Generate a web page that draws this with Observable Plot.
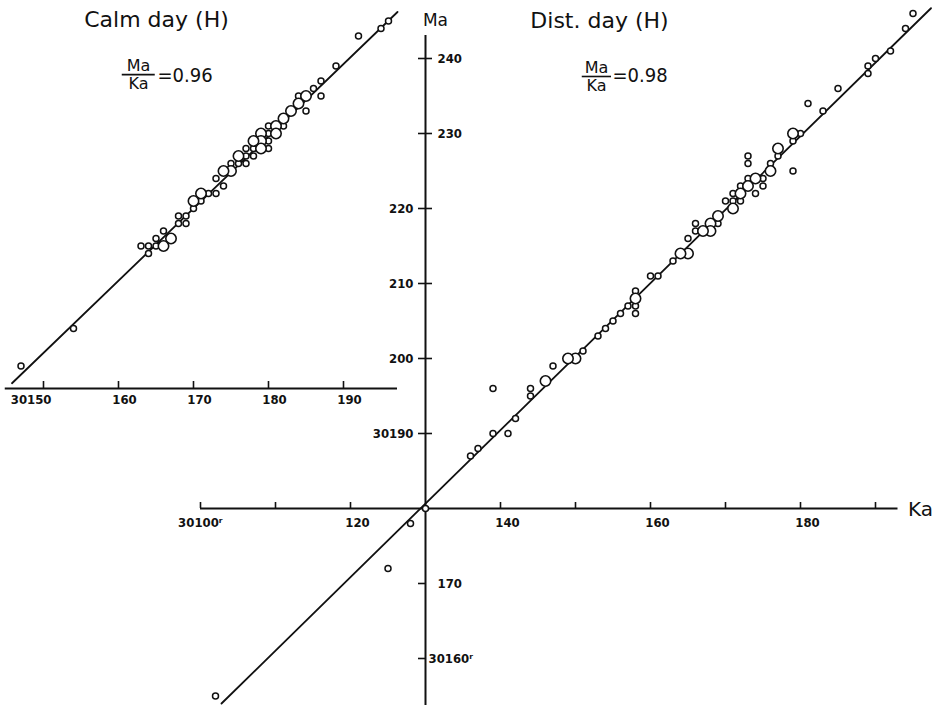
<!DOCTYPE html>
<html><head><meta charset="utf-8">
<script src="https://cdn.jsdelivr.net/npm/d3@7"></script>
<script src="https://cdn.jsdelivr.net/npm/@observablehq/plot@0.6"></script>
<style>
body{margin:0;background:#fff;}
#wrap{position:relative;width:937px;height:705px;overflow:hidden;background:#fff;}
#wrap svg{position:absolute;left:0;top:0;}
</style></head><body><div id="wrap"></div>
<script>
// ---- Disturbed day (H): Ka vs Ma (gamma, offset 30000) ----
const distKa = [195,194,192,190,189,189,185,183,181,180,179,179,179,177,177,176,176,173,173,173,175,174,175,174,173,172,172,171,172,171,170,171,169,169,168,168,167,166,166,165,165,164,163,161,160,158,158,158,158,157,156,155,154,153,151,150,149,147,146,144,144,139,142,141,139,137,136,130,128,125,102];
const distMa = [246,244,241,240,239,238,236,233,234,230,230,229,225,228,227,226,225,227,226,224,224,224,223,222,223,223,222,222,221,221,221,220,219,218,218,217,217,218,217,216,214,214,213,211,211,209,208,207,206,207,206,205,204,203,201,200,200,199,197,196,195,196,192,190,190,188,187,180,178,172,155];
const distN  = [1,1,1,1,1,1,1,1,1,1,2,1,1,2,1,1,2,1,1,1,1,2,1,1,2,1,2,1,1,1,1,2,2,1,2,2,2,1,1,1,2,2,1,1,1,1,2,1,1,1,1,1,1,1,1,2,2,1,2,1,1,1,1,1,1,1,1,1,1,1,1];
const distLineKa = [102.8, 197.4];
const distLineMa = [154.0, 246.7];

// ---- Calm day (H) ----
const calmKa = [147,154,192,195,196,189,187,186,187,185,184,184,185,183,182,182,181,181,180,180,180,180,179,179,179,178,178,178,177,177,177,176,176,175,175,174,173,174,173,172,171,171,170,170,169,168,168,169,167,166,166,165,165,164,164,163];
const calmMa = [199,204,243,244,245,239,237,236,235,235,235,234,233,233,232,231,231,230,231,230,229,228,230,229,228,229,228,227,228,227,226,227,226,226,225,225,224,223,222,222,222,221,221,220,219,219,218,218,216,217,215,216,215,215,214,215];
const calmN  = [1,1,1,1,1,1,1,1,1,2,1,2,1,2,2,1,2,2,1,1,1,1,2,2,2,2,1,1,1,1,1,2,1,1,2,2,1,1,1,1,2,1,2,1,1,1,1,1,2,1,2,1,1,1,1,1];
const calmLineKa = [145.8, 197.2];
const calmLineMa = [196.7, 246.2];

// ---- axes / ticks ----
const kaTicks = [100,110,120,140,150,160,170,180,190];
const kaLabelVals = [120,140,160,180];
const kaLabelText = ["120","140","160","180"];
const kaFirstVal = 100, kaFirstText = "30100\u02B3";
const maTicksCross = [190,200,210,220,230,240];
const maTicksLeft = [160,170];
const maRightVals = [240,230,170];
const maRightText = ["240","230","170"];
const maLeftVals = [220,210,200,190];
const maLeftText = ["220","210","200","30190"];
const maLowVal = 160, maLowText = "30160\u02B3";
const calmTicks = [150,160,170,180,190];
const calmLabelVals = [160,170,180,190];
const calmLabelText = ["160","170","180","190"];
const calmFirstVal = 150, calmFirstText = "30150";

// fraction bars of the Ma/Ka ratio annotations (data units of each panel)
const distBar = [{ka1: 150.9, ka2: 154.8, ma: 237.6}];
const calmBar = [{ka1: 160.5, ka2: 164.9, ma: 237.85}];

// origin of axes
const KA0 = 130, MA0 = 180, CALM_MA0 = 196;

// scale setup (7.5 px per gamma on both axes)
const PX = 7.5;
const yDom = [153.733, 247.733];
const mainXDom = [73.333, 198.267];
const calmXDom = [144.267, 200.267];

const dist = distKa.map((k,i)=>({ka:k, ma:distMa[i], n:distN[i]}));
const calm = calmKa.map((k,i)=>({ka:k, ma:calmMa[i], n:calmN[i]}));
const distLine = distLineKa.map((k,i)=>({ka:k, ma:distLineMa[i]}));
const calmLine = calmLineKa.map((k,i)=>({ka:k, ma:calmLineMa[i]}));

const LBL = {fontFamily:"DejaVu Sans Condensed, DejaVu Sans, sans-serif", fontWeight:"bold", fontSize:13, fill:"#111"};
const TTL = {fontFamily:"DejaVu Sans, sans-serif", fontSize:22, fill:"#111", lineAnchor:"middle"};
const FR = {fontFamily:"DejaVu Sans, sans-serif", fontSize:16, fill:"#111", lineAnchor:"middle"};
const FRV = {fontFamily:"DejaVu Sans Condensed, DejaVu Sans, sans-serif", fontSize:20, fill:"#111", lineAnchor:"middle"};
const tk = 6/PX;

function fraction(bar, cx, yNum, yDen, xVal, yVal, val) {
  return [
    Plot.ruleY(bar, {y: "ma", x1: "ka1", x2: "ka2", stroke: "#111", strokeWidth: 1.6}),
    Plot.text(["Ma"], {frameAnchor:"top-left", text:d=>d, dx: cx, dy: yNum, textAnchor:"middle", ...FR}),
    Plot.text(["Ka"], {frameAnchor:"top-left", text:d=>d, dx: cx, dy: yDen, textAnchor:"middle", ...FR}),
    Plot.text([val], {frameAnchor:"top-left", text:d=>d, dx: xVal, dy: yVal, textAnchor:"start", ...FRV})
  ];
}

const mainPlot = Plot.plot({
  width: 937, height: 705,
  margin: 0,
  style: {background: "transparent", overflow: "visible"},
  x: {domain: mainXDom, axis: null},
  y: {domain: yDom, axis: null},
  marks: [
    Plot.ruleY([MA0], {x1: 100, x2: 193, stroke: "#111", strokeWidth: 2}),
    Plot.ruleX([KA0], {y1: yDom[0], y2: 243.07, stroke: "#111", strokeWidth: 2}),
    Plot.ruleX(kaTicks, {x: d=>d, y1: MA0, y2: MA0 + tk, stroke:"#111", strokeWidth:1.6}),
    Plot.ruleY(maTicksCross, {y: d=>d, x1: KA0 - 7/PX, x2: KA0 + 7/PX, stroke:"#111", strokeWidth:1.6}),
    Plot.ruleY(maTicksLeft, {y: d=>d, x1: KA0 - 7/PX, x2: KA0, stroke:"#111", strokeWidth:1.6}),
    Plot.text(kaLabelVals, {x: d=>d, y: MA0, text: (d,i)=>kaLabelText[i], dx: 7, dy: 14, textAnchor:"middle", ...LBL}),
    Plot.text([kaFirstVal], {x: d=>d, y: MA0, text: ()=>kaFirstText, dx: 22, dy: 14, textAnchor:"end", ...LBL}),
    Plot.text(maRightVals, {x: KA0, y: d=>d, text: (d,i)=>maRightText[i], dx: 12, textAnchor:"start", ...LBL}),
    Plot.text(maLeftVals, {x: KA0, y: d=>d, text: (d,i)=>maLeftText[i], dx: -12, textAnchor:"end", ...LBL}),
    Plot.text([maLowVal], {x: KA0, y: d=>d, text: ()=>maLowText, dx: 3, textAnchor:"start", ...LBL}),
    Plot.text(["Ka"], {x: 193, y: MA0, text: d=>d, dx: 10, dy: 1, textAnchor:"start", fontFamily:"DejaVu Sans, sans-serif", fontSize:20, fill:"#111"}),
    Plot.text(["Ma"], {x: KA0, y: 243.07, text: d=>d, dx: 10, dy: -15, textAnchor:"middle", fontFamily:"DejaVu Sans, sans-serif", fontSize:17, fill:"#111"}),
    Plot.line(distLine, {x:"ka", y:"ma", stroke:"#111", strokeWidth:1.8}),
    Plot.dot(dist.filter(d=>d.n===1), {x:"ka", y:"ma", r:3, fill:"white", stroke:"#111", strokeWidth:1.5}),
    Plot.dot(dist.filter(d=>d.n===2), {x:"ka", y:"ma", r:5.2, fill:"white", stroke:"#111", strokeWidth:1.6}),
    Plot.text(["Dist. day (H)"], {frameAnchor:"top-left", text:d=>d, dx: 599, dy: 20, textAnchor:"middle", ...TTL}),
    ...fraction(distBar, 596, 67, 85, 612, 75, "=0.98")
  ]
});

const calmPlot = Plot.plot({
  width: 420, height: 705,
  margin: 0,
  style: {background: "transparent", overflow: "visible"},
  x: {domain: calmXDom, axis: null},
  y: {domain: yDom, axis: null},
  marks: [
    Plot.ruleY([CALM_MA0], {x1: 144.9, x2: 197.2, stroke:"#111", strokeWidth: 2}),
    Plot.ruleX(calmTicks, {x: d=>d, y1: CALM_MA0, y2: CALM_MA0 + 7/PX, stroke:"#111", strokeWidth:1.6}),
    Plot.text(calmLabelVals, {x: d=>d, y: CALM_MA0, text:(d,i)=>calmLabelText[i], dx: 6, dy: 11, textAnchor:"middle", ...LBL}),
    Plot.text([calmFirstVal], {x: d=>d, y: CALM_MA0, text:()=>calmFirstText, dx: 8, dy: 11, textAnchor:"end", ...LBL}),
    Plot.line(calmLine, {x:"ka", y:"ma", stroke:"#111", strokeWidth:1.8}),
    Plot.dot(calm.filter(d=>d.n===1), {x:"ka", y:"ma", r:3, fill:"white", stroke:"#111", strokeWidth:1.5}),
    Plot.dot(calm.filter(d=>d.n===2), {x:"ka", y:"ma", r:5.2, fill:"white", stroke:"#111", strokeWidth:1.6}),
    Plot.text(["Calm day (H)"], {frameAnchor:"top-left", text:d=>d, dx: 156, dy: 19, textAnchor:"middle", ...TTL}),
    ...fraction(calmBar, 138, 65, 83, 157, 75, "=0.96")
  ]
});

const wrap = document.getElementById("wrap");
wrap.appendChild(mainPlot);
wrap.appendChild(calmPlot);
</script></body></html>
